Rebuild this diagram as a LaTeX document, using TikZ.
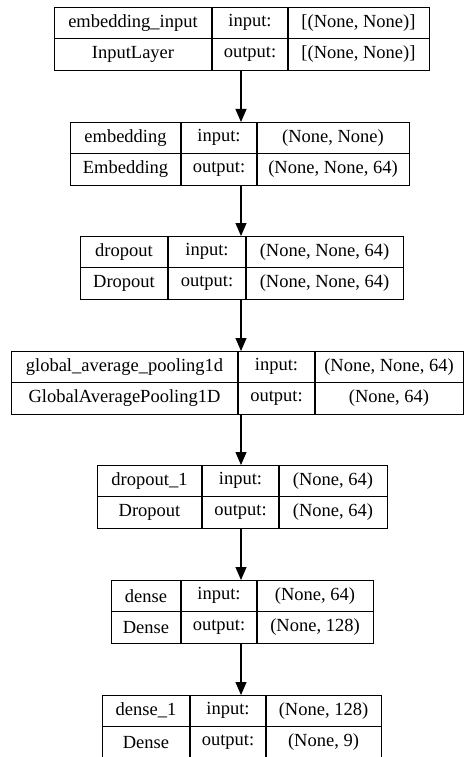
\documentclass[tikz,border=0pt]{standalone}
\usepackage{fontspec}
\setmainfont{Liberation Serif}
\usetikzlibrary{arrows.meta}
\tikzset{
  layerbox/.style={draw=black, line width=1.1pt, inner sep=0pt, anchor=north west, minimum height=63pt},
  divider/.style={draw=black, line width=1.1pt},
  celltext/.style={inner sep=0pt, font=\fontsize{18.5}{20}\selectfont, text=black},
  arr/.style={draw=black, line width=1.1pt, -{Triangle[length=13pt, width=11pt]}}
}
\newcommand\layerbox[6]{%
  \gdef\La{#2}\gdef\Lb{#3}\gdef\Lc{#4}\gdef\Ld{#5}\gdef\Lt{#6}\gdef\Ln{#1}%
  \node[layerbox, minimum width={#5pt-#2pt}] (#1) at (#2,-#6) {};
  \draw[divider] ({#2},{-#6-31.5}) -- ({#5},{-#6-31.5});
  \draw[divider] ({#3},{-#6}) -- ({#3},{-#6-63});
  \draw[divider] ({#4},{-#6}) -- ({#4},{-#6-63});
}
\newcommand\layertext[4]{%
  \node[celltext] (\Ln-name) at ({(\La+\Lb)/2},{-\Lt-15.75}) {#1};
  \node[celltext] (\Ln-cls)  at ({(\La+\Lb)/2},{-\Lt-47.25}) {#2};
  \node[celltext] (\Ln-inl)  at ({(\Lb+\Lc)/2},{-\Lt-15.75}) {input:};
  \node[celltext] (\Ln-outl) at ({(\Lb+\Lc)/2},{-\Lt-47.25}) {output:};
  \node[celltext] (\Ln-in)   at ({(\Lc+\Ld)/2},{-\Lt-15.75}) {#3};
  \node[celltext] (\Ln-out)  at ({(\Lc+\Ld)/2},{-\Lt-47.25}) {#4};
}
\begin{document}
\begin{tikzpicture}[x=1pt, y=1pt]
\useasboundingbox[fill=white] (0,0) rectangle (464,-757);
\coordinate (ax) at (241,0);

\layerbox{L1}{54}{212}{288}{429}{7}
\layertext{embedding\_input}{InputLayer}{[(None, None)]}{[(None, None)]}

\layerbox{L2}{70}{181}{257}{409}{122}
\layertext{embedding}{Embedding}{(None, None)}{(None, None, 64)}

\layerbox{L3}{80}{168}{246}{403}{236}
\layertext{dropout}{Dropout}{(None, None, 64)}{(None, None, 64)}

\layerbox{L4}{11}{238}{315}{463}{351}
\layertext{global\_average\_pooling1d}{GlobalAveragePooling1D}{(None, None, 64)}{(None, 64)}

\layerbox{L5}{97}{202}{279}{387}{465}
\layertext{dropout\_1}{Dropout}{(None, 64)}{(None, 64)}

\layerbox{L6}{111}{181}{257}{373}{580}
\layertext{dense}{Dense}{(None, 64)}{(None, 128)}

\layerbox{L7}{102}{190}{266}{381}{695}
\layertext{dense\_1}{Dense}{(None, 128)}{(None, 9)}

\draw[arr] (L1.south -| ax) -- (L2.north -| ax);
\draw[arr] (L2.south -| ax) -- (L3.north -| ax);
\draw[arr] (L3.south -| ax) -- (L4.north -| ax);
\draw[arr] (L4.south -| ax) -- (L5.north -| ax);
\draw[arr] (L5.south -| ax) -- (L6.north -| ax);
\draw[arr] (L6.south -| ax) -- (L7.north -| ax);
\end{tikzpicture}
\end{document}
